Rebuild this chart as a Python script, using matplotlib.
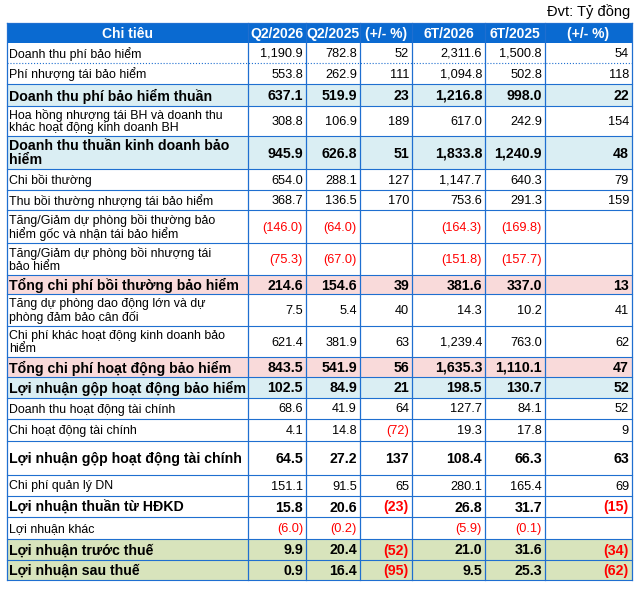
import matplotlib
matplotlib.use("Agg")
import matplotlib.pyplot as plt
from matplotlib.patches import Rectangle

plt.rcParams['font.family'] = ['Liberation Sans', 'DejaVu Sans']

header = ["Chi tiêu", "Q2/2026", "Q2/2025", "(+/- %)", "6T/2026", "6T/2025", "(+/- %)"]
labels = [
    "Doanh thu phí bảo hiểm",
    "Phí nhượng tái bảo hiểm",
    "Doanh thu phí bảo hiểm thuần",
    "Hoa hồng nhượng tái BH và doanh thu\nkhác hoạt động kinh doanh BH",
    "Doanh thu thuần kinh doanh bảo\nhiểm",
    "Chi bồi thường",
    "Thu bồi thường nhượng tái bảo hiểm",
    "Tăng/Giảm dự phòng bồi thường bảo\nhiểm gốc và nhận tái bảo hiểm",
    "Tăng/Giảm dự phòng bồi nhượng tái\nbảo hiểm",
    "Tổng chi phí bồi thường bảo hiểm",
    "Tăng dự phòng dao động lớn và dự\nphòng đảm bảo cân đối",
    "Chi phí khác hoạt động kinh doanh bảo\nhiểm",
    "Tổng chi phí hoạt động bảo hiểm",
    "Lợi nhuận gộp hoạt động bảo hiểm",
    "Doanh thu hoạt động tài chính",
    "Chi hoạt động tài chính",
    "Lợi nhuận gộp hoạt động tài chính",
    "Chi phí quản lý DN",
    "Lợi nhuận thuần từ HĐKD",
    "Lợi nhuận khác",
    "Lợi nhuận trước thuế",
    "Lợi nhuận sau thuế",
]
q2_2026 = ["1,190.9", "553.8", "637.1", "308.8", "945.9", "654.0", "368.7", "(146.0)", "(75.3)", "214.6",
           "7.5", "621.4", "843.5", "102.5", "68.6", "4.1", "64.5", "151.1", "15.8", "(6.0)", "9.9", "0.9"]
q2_2025 = ["782.8", "262.9", "519.9", "106.9", "626.8", "288.1", "136.5", "(64.0)", "(67.0)", "154.6",
           "5.4", "381.9", "541.9", "84.9", "41.9", "14.8", "27.2", "91.5", "20.6", "(0.2)", "20.4", "16.4"]
q_pct = ["52", "111", "23", "189", "51", "127", "170", "", "", "39",
         "40", "63", "56", "21", "64", "(72)", "137", "65", "(23)", "", "(52)", "(95)"]
h_2026 = ["2,311.6", "1,094.8", "1,216.8", "617.0", "1,833.8", "1,147.7", "753.6", "(164.3)", "(151.8)", "381.6",
          "14.3", "1,239.4", "1,635.3", "198.5", "127.7", "19.3", "108.4", "280.1", "26.8", "(5.9)", "21.0", "9.5"]
h_2025 = ["1,500.8", "502.8", "998.0", "242.9", "1,240.9", "640.3", "291.3", "(169.8)", "(157.7)", "337.0",
          "10.2", "763.0", "1,110.1", "130.7", "84.1", "17.8", "66.3", "165.4", "31.7", "(0.1)", "31.6", "25.3"]
h_pct = ["54", "118", "22", "154", "48", "79", "159", "", "", "13",
         "41", "62", "47", "52", "52", "9", "63", "69", "(15)", "", "(34)", "(62)"]

bold_rows = {2, 4, 9, 12, 13, 16, 18, 20, 21}
fills = {2: "#daeef3", 4: "#daeef3", 13: "#daeef3", 9: "#f9dada", 12: "#f9dada", 20: "#d8e4bc", 21: "#d8e4bc"}

col_x = [7, 248, 306, 360, 412, 485, 545, 632]
row_y = [23, 43, 63, 84, 106, 136, 169, 190, 210, 243, 275, 294, 326, 357, 377, 398, 419, 441,
         475, 496, 517, 539, 560, 580]

W, H = 640, 595
fig = plt.figure(figsize=(W / 100, H / 100), dpi=100)
ax = fig.add_axes([0, 0, 1, 1])
ax.set_xlim(0, W)
ax.set_ylim(H, 0)
ax.axis("off")

blue = "#1f6fd0"
ax.text(630, 12, "Đvt: Tỷ đồng", ha="right", va="center", fontsize=10.5)

# header
ax.add_patch(Rectangle((col_x[0], row_y[0]), col_x[-1] - col_x[0], row_y[1] - row_y[0], color="#0a6ad1", lw=0))
for c, t in enumerate(header):
    ax.text((col_x[c] + col_x[c + 1]) / 2, (row_y[0] + row_y[1]) / 2 + 1, t, ha="center", va="center",
            color="white", fontweight="bold", fontsize=10)

cols = [q2_2026, q2_2025, q_pct, h_2026, h_2025, h_pct]
for r, lab in enumerate(labels):
    y0, y1 = row_y[r + 1], row_y[r + 2]
    ym = (y0 + y1) / 2 + 1
    if r in fills:
        ax.add_patch(Rectangle((col_x[0], y0), col_x[-1] - col_x[0], y1 - y0, color=fills[r], lw=0))
    b = r in bold_rows
    fs = 10.2 if b else 9.2
    fw = "bold" if b else "normal"
    ax.text(col_x[0] + 2, ym, lab, ha="left", va="center", fontsize=fs if b else 8.9, fontweight=fw,
            linespacing=1.0)
    for c, vals in enumerate(cols):
        v = vals[r]
        ax.text(col_x[c + 2] - 3, ym, v, ha="right", va="center", fontsize=fs, fontweight=fw,
                color="#ff0000" if v.startswith("(") else "black")
    ax.plot([col_x[0], col_x[-1]], [y1, y1], color=blue, lw=0.8, ls=":" if r == 0 else "-")

for x in col_x:
    ax.plot([x, x], [row_y[0], row_y[-1]], color=blue, lw=0.9)
ax.plot([col_x[0], col_x[-1]], [row_y[0], row_y[0]], color=blue, lw=0.9)

fig.savefig("out.png", dpi=100)
